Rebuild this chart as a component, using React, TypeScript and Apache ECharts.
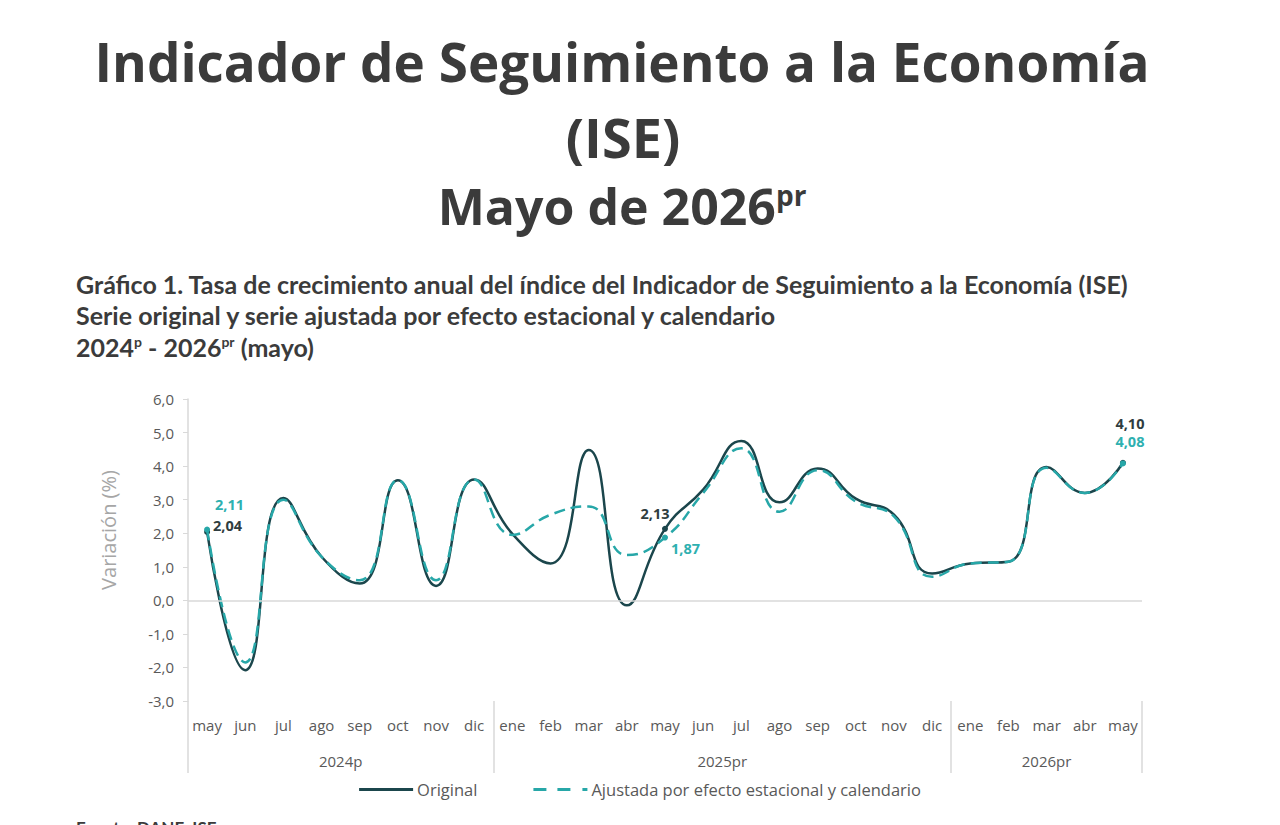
import React, { useEffect, useRef } from "react";
import * as echarts from "echarts";

const months = ["may","jun","jul","ago","sep","oct","nov","dic","ene","feb","mar","abr","may","jun","jul","ago","sep","oct","nov","dic","ene","feb","mar","abr","may"];
const original = [2.04,-2.08,3.05,1.3,0.5,3.58,0.43,3.6,1.98,1.1,4.48,-0.15,2.13,3.3,4.75,2.92,3.93,3.03,2.55,0.8,1.1,1.15,3.97,3.2,4.10];
const ajustada = [2.11,-1.85,3.0,1.3,0.6,3.58,0.6,3.6,1.95,2.55,2.8,1.35,1.87,3.2,4.53,2.64,3.88,2.94,2.5,0.7,1.1,1.15,3.95,3.2,4.08];
const yearLabels = ["2024p","2025pr","2026pr"];
const yearSpans = [8, 12, 5];
const yMin = -3;
const yMax = 6;
const labeledIdx = [0, 12, 24];
const seriesNames = ["Original", "Ajustada por efecto estacional y calendario"];

const DARK = "#1b464c";
const TEAL = "#27a7a8";
const fmt = (v: number, d: number) => v.toFixed(d).replace(".", ",");

const origLabelOffsets: Record<number, any> = {
  0: { position: "right", offset: [-2, -6] },
  12: { position: "top", offset: [-10, 0] },
  24: { position: "top", offset: [7, -24] },
};
const ajLabelOffsets: Record<number, any> = {
  0: { position: "right", offset: [0, -25] },
  12: { position: "right", offset: [-2, 11] },
  24: { position: "top", offset: [7, -6] },
};

function buildData(vals: number[], color: string, offs: Record<number, any>) {
  return vals.map((v, i) => {
    if (labeledIdx.indexOf(i) < 0) return { value: v };
    return {
      value: v,
      symbolSize: 6,
      label: {
        show: true,
        ...offs[i],
        formatter: () => fmt(v, 2),
        color,
        fontWeight: "bold",
        fontSize: 14.5,
        fontFamily: "Open Sans",
      },
    };
  });
}

export default function App() {
  const ref = useRef<HTMLDivElement>(null);
  useEffect(() => {
    if (!ref.current) return;
    const chart = echarts.init(ref.current, null, { renderer: "svg" });
    const bounds: number[] = [0];
    yearSpans.forEach((s) => bounds.push(bounds[bounds.length - 1] + s));
    const centerVals = yearSpans.map((s, i) => bounds[i] + s / 2);
    const titleColor = "#3b3b3b";
    chart.setOption({
      animation: false,
      backgroundColor: "#ffffff",
      grid: { left: 188, right: 138, top: 399, bottom: 124, containLabel: false },
      graphic: [
        { type: "text", x: 622, y: 61, style: { text: "Indicador de Seguimiento a la Economía", fontFamily: "Open Sans", fontWeight: "bold", fontSize: 53, fill: titleColor, textAlign: "center", textVerticalAlign: "middle" } },
        { type: "text", x: 623, y: 137, style: { text: "(ISE)", fontFamily: "Open Sans", fontWeight: "bold", fontSize: 54, fill: titleColor, textAlign: "center", textVerticalAlign: "middle" } },
        { type: "text", x: 622, y: 206, style: { text: "{a|Mayo de 2026}{s|pr}", fontFamily: "Open Sans", fill: titleColor, textAlign: "center", textVerticalAlign: "middle", rich: { a: { fontFamily: "Open Sans", fontWeight: "bold", fontSize: 50, fill: titleColor, verticalAlign: "bottom" }, s: { fontFamily: "Open Sans", fontWeight: "bold", fontSize: 28, fill: titleColor, verticalAlign: "top" } } } },
        { type: "text", x: 76, y: 284, style: { text: "Gráfico 1. Tasa de crecimiento anual del índice del Indicador de Seguimiento a la Economía (ISE)", fontFamily: "Lato", fontWeight: "bold", fontSize: 25, fill: titleColor, textVerticalAlign: "middle" } },
        { type: "text", x: 76, y: 315, style: { text: "Serie original y serie ajustada por efecto estacional y calendario", fontFamily: "Lato", fontWeight: "bold", fontSize: 25, fill: titleColor, textVerticalAlign: "middle" } },
        { type: "text", x: 76, y: 347, style: { text: "{a|2024}{s|p}{a| - 2026}{s|pr}{a| (mayo)}", fill: titleColor, textVerticalAlign: "middle", rich: { a: { fontFamily: "Lato", fontWeight: "bold", fontSize: 25, fill: titleColor, verticalAlign: "bottom" }, s: { fontFamily: "Lato", fontWeight: "bold", fontSize: 14, fill: titleColor, verticalAlign: "top" } } } },
        { type: "text", x: 108, y: 530, rotation: Math.PI / 2, style: { text: "Variación (%)", fontFamily: "Open Sans", fontSize: 20, fill: "#a6a6a6", textAlign: "center", textVerticalAlign: "middle" } },
        { type: "text", x: 76, y: 819, style: { text: "Fuente: DANE, ISE", fontFamily: "Lato", fontWeight: "bold", fontSize: 17, fill: titleColor, textVerticalAlign: "top" } },
      ],
      legend: {
        left: "center",
        top: 776,
        itemWidth: 54,
        itemHeight: 3,
        itemGap: 56,
        textStyle: { color: "#595959", fontSize: 16.5, fontFamily: "Open Sans", padding: [0, 0, 0, -1] },
        data: [
          { name: seriesNames[0], icon: "path://M0,0h54v3h-54z" },
          { name: seriesNames[1], icon: "path://M0,0h13v3h-13z M24,0h13v3h-13z M49,0h5v3h-5z" },
        ],
      },
      xAxis: [
        {
          type: "category",
          data: months,
          boundaryGap: true,
          position: "bottom",
          axisLine: { show: false },
          axisTick: { show: false },
          splitLine: { show: false },
          axisLabel: { color: "#595959", fontSize: 15, fontFamily: "Open Sans", margin: 16, interval: 0 },
        },
        {
          type: "value",
          min: 0,
          max: months.length,
          position: "bottom",
          axisLine: { show: false },
          splitLine: { show: false },
          axisTick: { show: true, customValues: bounds, length: 72, inside: false, lineStyle: { color: "#d9d9d9", width: 1.5 } },
          axisLabel: {
            show: true,
            customValues: centerVals,
            margin: 52,
            color: "#595959",
            fontSize: 15,
            fontFamily: "Open Sans",
            formatter: (v: number) => {
              const i = centerVals.findIndex((c) => Math.abs(c - v) < 1e-6);
              return i >= 0 ? yearLabels[i] : "";
            },
          },
        },
      ],
      yAxis: {
        type: "value",
        min: yMin,
        max: yMax,
        interval: 1,
        axisLine: { show: true, lineStyle: { color: "#d9d9d9", width: 1.5 } },
        axisTick: { show: true, length: 5, lineStyle: { color: "#d9d9d9" } },
        splitLine: { show: false },
        axisLabel: { color: "#595959", fontSize: 15, fontFamily: "Open Sans", margin: 14, formatter: (v: number) => fmt(v, 1) },
      },
      series: [
        {
          name: "zero",
          type: "line",
          data: [],
          z: 1,
          silent: true,
          markLine: {
            silent: true,
            symbol: ["none", "none"],
            label: { show: false },
            lineStyle: { color: "#d9d9d9", type: "solid", width: 1.5 },
            data: [{ yAxis: 0 }],
          },
        },
        {
          name: seriesNames[0],
          type: "line",
          smooth: 0.5,
          z: 2,
          symbol: "circle",
          symbolSize: 0,
          showSymbol: true,
          itemStyle: { color: DARK },
          lineStyle: { color: DARK, width: 2.5 },
          data: buildData(original, "#2f3d40", origLabelOffsets),
        },
        {
          name: seriesNames[1],
          type: "line",
          smooth: 0.5,
          z: 3,
          symbol: "circle",
          symbolSize: 0,
          showSymbol: true,
          itemStyle: { color: TEAL },
          lineStyle: { color: TEAL, width: 2.5, type: [11, 6] },
          data: buildData(ajustada, "#2eb0b0", ajLabelOffsets),
        },
      ],
    });
    return () => chart.dispose();
  }, []);
  return <div ref={ref} style={{ position: "fixed", left: 0, top: 0, width: 1280, height: 825 }} />;
}
